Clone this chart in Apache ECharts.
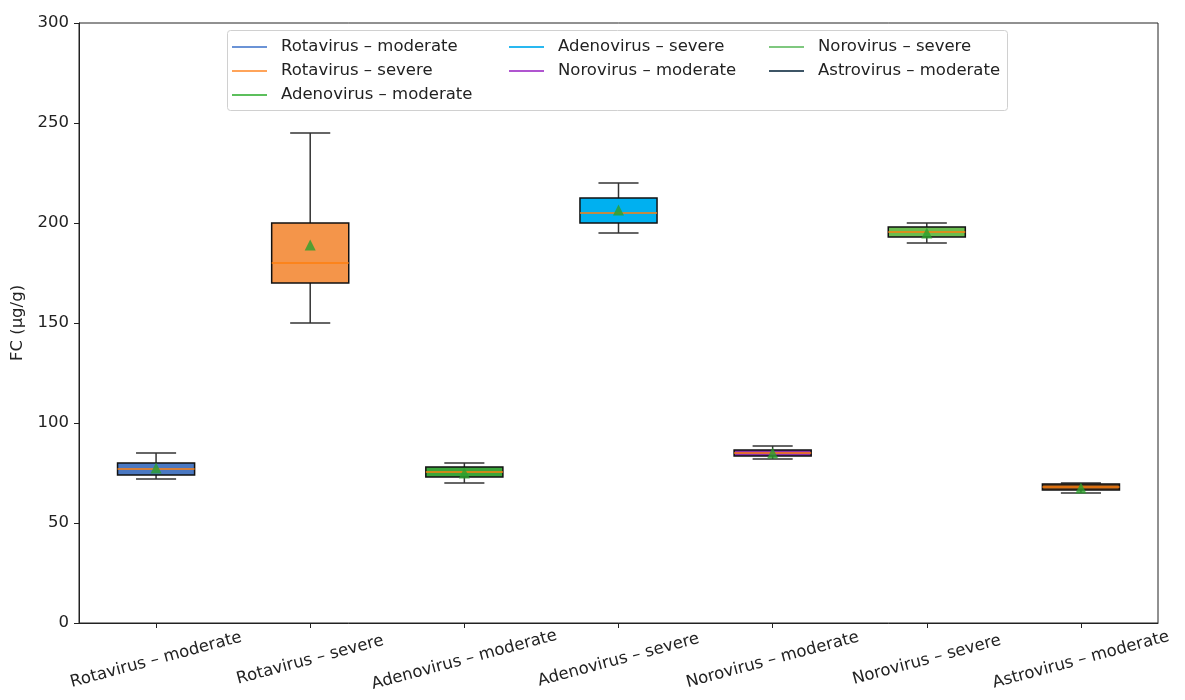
<!DOCTYPE html>
<html>
<head>
<meta charset="utf-8">
<script src="https://cdn.jsdelivr.net/npm/echarts@6/dist/echarts.min.js"></script>
<style>
html,body{margin:0;padding:0;background:#fff;}
#chart{width:1185px;height:700px;}
</style>
</head>
<body>
<div id="chart"></div>
<script>
// ---- data ----
const categories = ['Rotavirus – moderate', 'Rotavirus – severe', 'Adenovirus – moderate', 'Adenovirus – severe', 'Norovirus – moderate', 'Norovirus – severe', 'Astrovirus – moderate'];
const whiskerLow  = [72, 150, 70, 195, 82, 190, 65];
const q1Values    = [74, 170, 73, 200, 83.5, 193, 66.5];
const medians     = [77, 180, 75.5, 205, 85, 195.5, 68];
const q3Values    = [80, 200, 78, 212.5, 86.5, 198, 69.5];
const whiskerHigh = [85, 245, 80, 220, 88.5, 200, 70];
const means       = [77.5, 189, 75, 206.5, 85, 195, 67.5];
const yTicks = [0, 50, 100, 150, 200, 250, 300];

// ---- styles ----
const boxFills = ['#4a78c2', '#f4954a', '#3aa53a', '#00b0f0', '#8a30a8', '#6abd4f', '#74461c'];
const legendColors = ['#6b93d6', '#ffa45a', '#5cbf5c', '#29b8f0', '#b055d0', '#7fc87f', '#3d5566'];
const legendColumns = [[0, 1, 2], [3, 4], [5, 6]];
const legendLefts = [232, 509, 769];

const FONT = 'DejaVu Sans';
const FS = 16.5;

const boxData = categories.map((c, i) => [i, whiskerLow[i], q1Values[i], medians[i], q3Values[i], whiskerHigh[i]]);
const meanData = categories.map((c, i) => [i, means[i]]);

const chart = echarts.init(document.getElementById('chart'), null, {renderer: 'canvas'});

const dummySeries = categories.map((c, i) => ({
  name: c,
  type: 'line',
  data: [],
  color: legendColors[i],
  showSymbol: false,
  symbol: 'none'
}));

const legends = legendColumns.map((col, k) => ({
  orient: 'vertical',
  left: legendLefts[k],
  top: 38,
  itemWidth: 35,
  itemHeight: 2,
  itemGap: 6,
  icon: 'rect',
  selectedMode: false,
  padding: 0,
  data: col.map(i => categories[i]),
  textStyle: {fontFamily: FONT, fontSize: FS, color: '#222', lineHeight: 18, padding: [0, 0, 0, 9]}
}));

const option = {
  animation: false,
  backgroundColor: '#fff',
  grid: {left: 79, right: 27, top: 23, bottom: 77, show: true, borderColor: '#222', borderWidth: 1, backgroundColor: 'transparent'},
  legend: legends,
  graphic: [{
    type: 'rect',
    left: 227, top: 30,
    shape: {width: 780, height: 80, r: 3},
    style: {fill: '#fff', stroke: '#d0d0d0', lineWidth: 1},
    z: 0, zlevel: 0
  }],
  xAxis: {
    type: 'category',
    data: categories,
    boundaryGap: true,
    axisLine: {show: true, lineStyle: {color: '#222', width: 1}},
    axisTick: {show: true, alignWithLabel: true, length: 5, lineStyle: {color: '#222'}},
    axisLabel: {
      interval: 0, rotate: 15, align: 'center', verticalAlign: 'middle', margin: 37,
      fontFamily: FONT, fontSize: FS, color: '#222'
    },
    splitLine: {show: false}
  },
  yAxis: {
    type: 'value',
    min: yTicks[0], max: yTicks[yTicks.length - 1], interval: 50,
    name: 'FC (µg/g)',
    nameLocation: 'middle',
    nameGap: 50,
    nameTextStyle: {fontFamily: FONT, fontSize: FS, color: '#222'},
    axisLine: {show: true, lineStyle: {color: '#222', width: 1}},
    axisTick: {show: true, length: 5, lineStyle: {color: '#222'}},
    axisLabel: {fontFamily: FONT, fontSize: FS, color: '#222', margin: 10},
    splitLine: {show: false}
  },
  series: dummySeries.concat([
    {
      name: 'box',
      type: 'custom',
      z: 5,
      data: boxData,
      encode: {x: 0, y: [1, 2, 3, 4, 5]},
      renderItem: function (params, api) {
        const idx = api.value(0);
        const band = api.size([1, 0])[0];
        const half = band * 0.25;
        const capHalf = band * 0.13;
        const pMin = api.coord([idx, api.value(1)]);
        const pQ1 = api.coord([idx, api.value(2)]);
        const pMed = api.coord([idx, api.value(3)]);
        const pQ3 = api.coord([idx, api.value(4)]);
        const pMax = api.coord([idx, api.value(5)]);
        const x = pMin[0];
        const lineStyle = {stroke: '#333', lineWidth: 1.5};
        return {
          type: 'group',
          children: [
            {type: 'line', shape: {x1: x, y1: pQ3[1], x2: x, y2: pMax[1]}, style: lineStyle},
            {type: 'line', shape: {x1: x, y1: pQ1[1], x2: x, y2: pMin[1]}, style: lineStyle},
            {type: 'line', shape: {x1: x - capHalf, y1: pMax[1], x2: x + capHalf, y2: pMax[1]}, style: lineStyle},
            {type: 'line', shape: {x1: x - capHalf, y1: pMin[1], x2: x + capHalf, y2: pMin[1]}, style: lineStyle},
            {type: 'rect', shape: {x: x - half, y: pQ3[1], width: half * 2, height: pQ1[1] - pQ3[1]},
              style: {fill: boxFills[idx], stroke: '#111', lineWidth: 1.5}},
            {type: 'line', shape: {x1: x - half, y1: pMed[1], x2: x + half, y2: pMed[1]},
              style: {stroke: '#ff7f0e', lineWidth: 1.5}}
          ]
        };
      }
    },
    {
      name: 'mean',
      type: 'scatter',
      z: 10,
      data: meanData,
      symbol: 'triangle',
      symbolSize: 11,
      itemStyle: {color: '#2ca02c'}
    }
  ])
};

chart.setOption(option);
</script>
</body>
</html>
